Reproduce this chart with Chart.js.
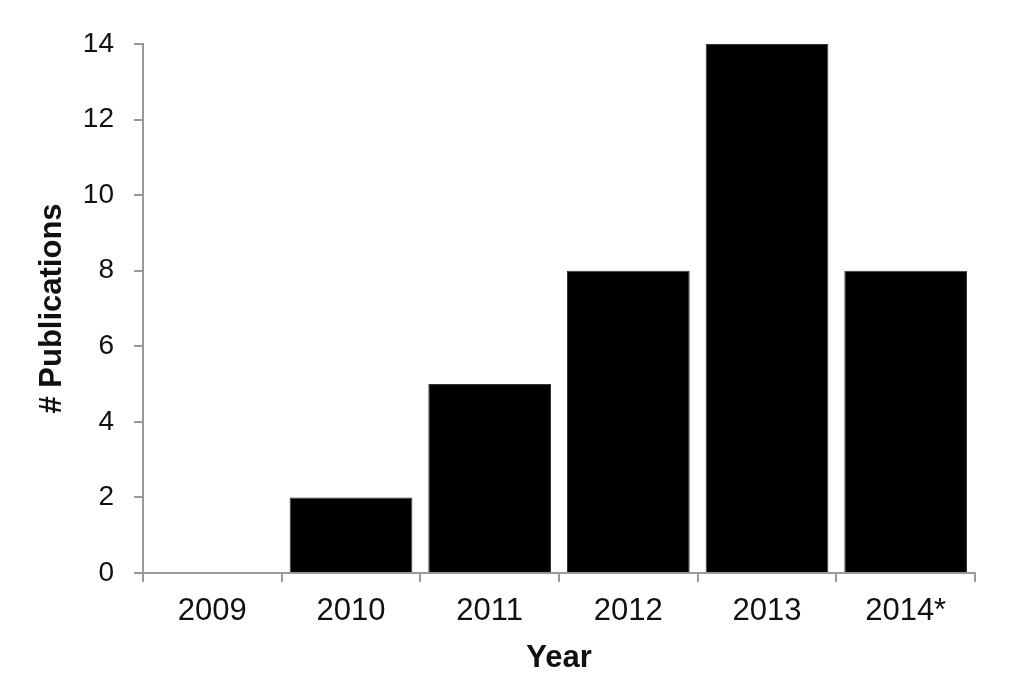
<!DOCTYPE html>
<html>
<head>
<meta charset="utf-8">
<script src="https://cdn.jsdelivr.net/npm/chart.js@4/dist/chart.umd.min.js"></script>
<style>
  html, body { margin: 0; padding: 0; background: #fff; }
  #wrap { width: 1024px; height: 687px; }
</style>
</head>
<body>
<div id="wrap"><canvas id="chart" width="1024" height="687"></canvas></div>
<script>
const years = ['2009', '2010', '2011', '2012', '2013', '2014*'];
const publications = [0, 2, 5, 8, 14, 8];
const yTicks = [0, 2, 4, 6, 8, 10, 12, 14];

const axisGrey = '#999999';
const family = 'Liberation Sans, Arial, sans-serif';

new Chart(document.getElementById('chart'), {
    type: 'bar',
    data: {
        labels: years,
        datasets: [{
            label: '# Publications',
            data: publications,
            backgroundColor: '#000000',
            borderColor: '#333333',
            borderWidth: 1,
            categoryPercentage: 1,
            barPercentage: 0.885
        }]
    },
    options: {
        responsive: false,
        animation: false,
        layout: { padding: { top: 44, right: 49, left: 0, bottom: 0 } },
        plugins: { legend: { display: false }, tooltip: { enabled: false } },
        scales: {
            x: {
                grid: { drawOnChartArea: false, drawTicks: true, tickLength: 9, color: axisGrey, lineWidth: 2, offset: true },
                border: { color: axisGrey, width: 2 },
                ticks: { color: '#111', font: { family, size: 31 }, padding: 11 },
                title: { display: true, text: 'Year', color: '#111', font: { family, size: 31, weight: 'bold' }, padding: { top: 0, bottom: 10 } },
                afterFit: s => { s.height = 114; }
            },
            y: {
                min: 0,
                max: 14,
                afterBuildTicks: s => { s.ticks = yTicks.map(v => ({ value: v })); },
                grid: { drawOnChartArea: false, drawTicks: true, tickLength: 9, color: axisGrey, lineWidth: 2 },
                border: { color: axisGrey, width: 2 },
                ticks: { color: '#111', font: { family, size: 28 }, padding: 20 },
                title: { display: true, text: '# Publications', color: '#111', font: { family, size: 31, weight: 'bold' }, padding: { top: 34, bottom: 0 } },
                afterFit: s => { s.width = 143; }
            }
        }
    }
});
</script>
</body>
</html>
